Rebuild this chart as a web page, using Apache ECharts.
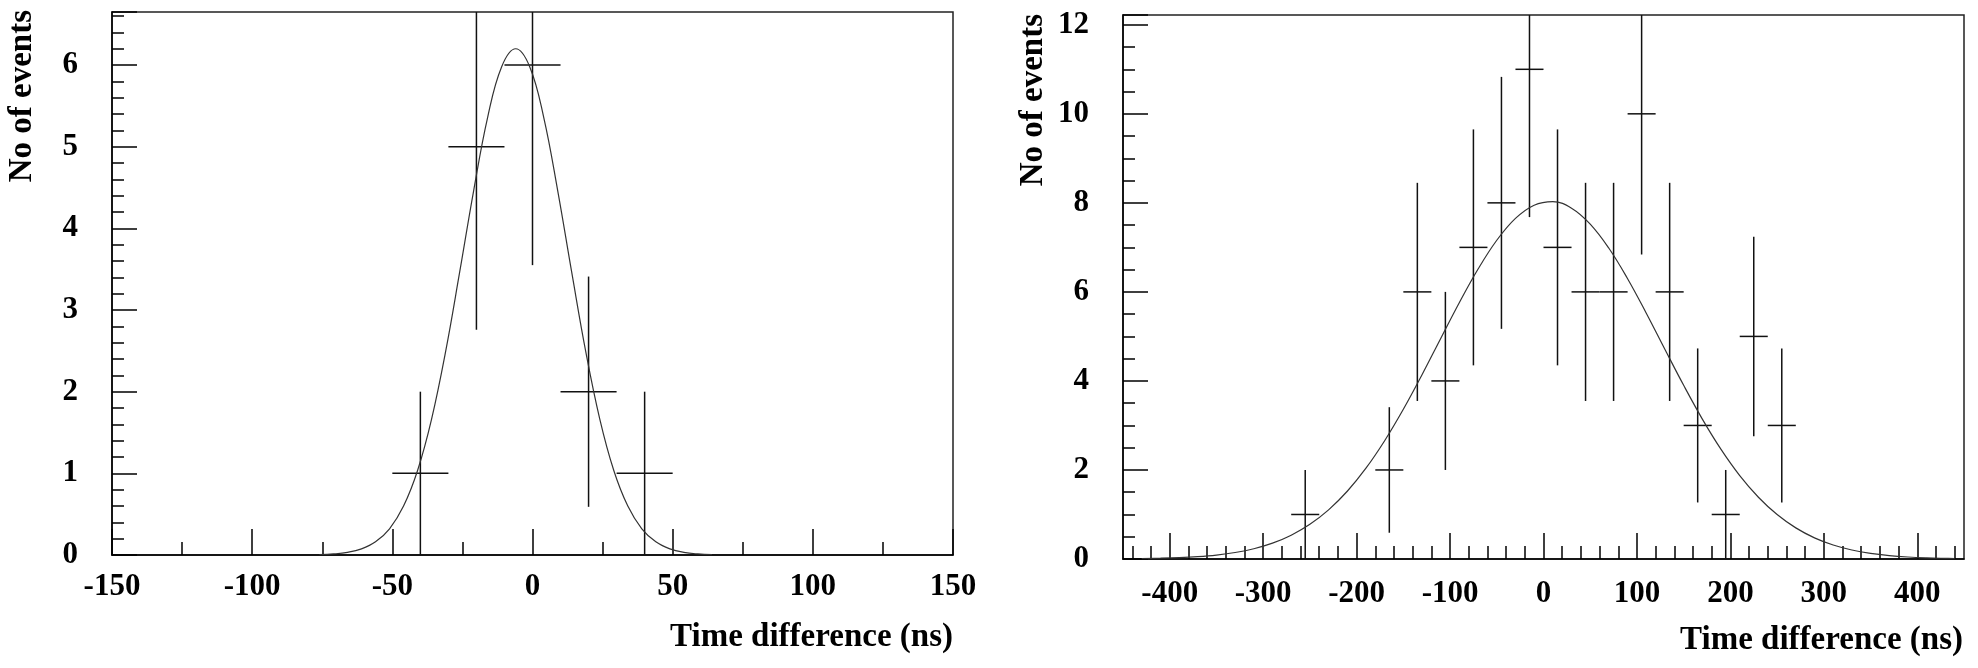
<!DOCTYPE html>
<html>
<head>
<meta charset="utf-8">
<script src="https://cdn.jsdelivr.net/npm/echarts@6/dist/echarts.min.js"></script>
<style>
html,body{margin:0;padding:0;background:#fff;}
#chart{width:1978px;height:668px;}
</style>
</head>
<body>
<div id="chart"></div>
<script>
// ---------- Left panel data (bin width 20 ns) ----------
const leftBinWidth = 20;
const leftCenters = [-40, -20, 0, 20, 40];
const leftCounts  = [1, 5, 6, 2, 1];
const leftErrors  = [1, 2.24, 2.45, 1.41, 1];
const leftFitX = [-76, -71, -66, -61, -56, -51, -46, -41, -36, -31, -26, -21, -16, -11, -6, -1, 4, 9, 14, 19, 24, 29, 34, 39, 44, 49, 54, 59, 64];
const leftFitY = [0.005, 0.013, 0.032, 0.075, 0.161, 0.321, 0.599, 1.035, 1.665, 2.49, 3.46, 4.46, 5.36, 5.98, 6.2, 5.98, 5.36, 4.46, 3.46, 2.49, 1.665, 1.035, 0.599, 0.321, 0.161, 0.075, 0.032, 0.013, 0.005];

// ---------- Right panel data (bin width 30 ns) ----------
const rightBinWidth = 30;
const rightCenters = [-255, -165, -135, -105, -75, -45, -15, 15, 45, 75, 105, 135, 165, 195, 225, 255];
const rightCounts  = [1, 2, 6, 4, 7, 8, 11, 7, 6, 6, 10, 6, 3, 1, 5, 3];
const rightErrors  = [1, 1.41, 2.45, 2, 2.65, 2.83, 3.32, 2.65, 2.45, 2.45, 3.16, 2.45, 1.73, 1, 2.24, 1.73];
const rightFitX = [-430, -410, -390, -370, -350, -330, -310, -290, -270, -250, -230, -210, -190, -170, -150, -130, -110, -90, -70, -50, -30, -10, 10, 30, 50, 70, 90, 110, 130, 150, 170, 190, 210, 230, 250, 270, 290, 310, 330, 350, 370, 390, 410, 430, 440];
const rightFitY = [0.0095, 0.0173, 0.0307, 0.0531, 0.0892, 0.146, 0.231, 0.356, 0.535, 0.780, 1.104, 1.522, 2.040, 2.657, 3.363, 4.139, 4.953, 5.761, 6.513, 7.160, 7.651, 7.948, 8.028, 7.881, 7.523, 6.980, 6.296, 5.521, 4.706, 3.901, 3.143, 2.462, 1.874, 1.388, 0.998, 0.699, 0.475, 0.314, 0.202, 0.126, 0.0766, 0.0452, 0.0260, 0.0145, 0.0107];
const rightMajorTicks = [-400, -300, -200, -100, 0, 100, 200, 300, 400];
const rightMinorTicks = [-440, -420, -380, -360, -340, -320, -280, -260, -240, -220, -180, -160, -140, -120, -80, -60, -40, -20, 20, 40, 60, 80, 120, 140, 160, 180, 220, 240, 260, 280, 320, 340, 360, 380, 420, 440];

// ---------- Text ----------
const xTitle = 'Time difference (ns)';
const yTitle = 'No of events';

const serif = '"Liberation Serif", "Times New Roman", Times, serif';
const labelStyle = { fontFamily: serif, fontWeight: 'bold', fontSize: 31, color: '#000' };
const tickLine = { color: '#000', width: 1.5 };
const titleStyle = { fontFamily: serif, fontWeight: 'bold', fontSize: 33, fill: '#000', align: 'right', verticalAlign: 'middle', textAlign: 'right', textVerticalAlign: 'middle' };

function crossRenderer(binWidth) {
  return function (params, api) {
    const x = api.value(0), y = api.value(1), e = api.value(2);
    const cs = params.coordSys;
    const top = cs.y, bot = cs.y + cs.height;
    const clampY = v => Math.max(top, Math.min(bot, v));
    const c = api.coord([x, y]);
    const l = api.coord([x - binWidth / 2, y]);
    const r = api.coord([x + binWidth / 2, y]);
    const hi = api.coord([x, y + e]);
    const lo = api.coord([x, y - e]);
    const st = { stroke: '#111', lineWidth: 1.5 };
    return {
      type: 'group',
      children: [
        { type: 'line', shape: { x1: l[0], y1: c[1], x2: r[0], y2: c[1] }, style: st },
        { type: 'line', shape: { x1: c[0], y1: clampY(hi[1]), x2: c[0], y2: clampY(lo[1]) }, style: st }
      ]
    };
  };
}

const chart = echarts.init(document.getElementById('chart'), null, { renderer: 'canvas' });
const option = {
  animation: false,
  backgroundColor: '#fff',
  grid: [
    { left: 112, top: 12, width: 841, height: 543, show: true, borderColor: '#222', borderWidth: 1.5, backgroundColor: 'transparent', outerBoundsMode: 'none' },
    { left: 1123, top: 15, width: 841, height: 544, show: true, borderColor: '#222', borderWidth: 1.5, backgroundColor: 'transparent', outerBoundsMode: 'none' }
  ],
  xAxis: [
    {
      gridIndex: 0, type: 'value', min: -150, max: 150, interval: 50, position: 'bottom',
      axisLine: { show: true, onZero: false, lineStyle: tickLine },
      axisTick: { show: true, inside: true, length: 26, lineStyle: tickLine },
      minorTick: { show: true, splitNumber: 2, length: 13, lineStyle: tickLine },
      axisLabel: Object.assign({ margin: 16 }, labelStyle),
      splitLine: { show: false }, minorSplitLine: { show: false }
    },
    {
      gridIndex: 1, type: 'value', min: -450, max: 450, position: 'bottom',
      axisLine: { show: true, onZero: false, lineStyle: tickLine },
      axisTick: { show: true, inside: true, length: 26, lineStyle: tickLine, customValues: rightMajorTicks },
      minorTick: { show: false },
      axisLabel: Object.assign({ margin: 19, customValues: rightMajorTicks }, labelStyle),
      splitLine: { show: false }, minorSplitLine: { show: false }
    },
    {
      gridIndex: 1, type: 'value', min: -450, max: 450, position: 'bottom',
      axisLine: { show: false, onZero: false },
      axisTick: { show: true, inside: true, length: 13, lineStyle: tickLine, customValues: rightMinorTicks },
      minorTick: { show: false },
      axisLabel: { show: false },
      splitLine: { show: false }, minorSplitLine: { show: false }
    }
  ],
  yAxis: [
    {
      gridIndex: 0, type: 'value', min: 0, max: 6.65, interval: 1,
      axisLine: { show: true, onZero: false, lineStyle: tickLine },
      axisTick: { show: true, inside: true, length: 25, lineStyle: tickLine },
      minorTick: { show: true, splitNumber: 5, length: 12, lineStyle: tickLine },
      axisLabel: Object.assign({ margin: 34, showMaxLabel: false }, labelStyle),
      splitLine: { show: false }, minorSplitLine: { show: false }
    },
    {
      gridIndex: 1, type: 'value', min: 0, max: 12.22, interval: 2,
      axisLine: { show: true, onZero: false, lineStyle: tickLine },
      axisTick: { show: true, inside: true, length: 25, lineStyle: tickLine },
      minorTick: { show: true, splitNumber: 4, length: 12, lineStyle: tickLine },
      axisLabel: Object.assign({ margin: 34, showMaxLabel: false }, labelStyle),
      splitLine: { show: false }, minorSplitLine: { show: false }
    }
  ],
  series: [
    {
      type: 'custom', xAxisIndex: 0, yAxisIndex: 0, silent: true,
      encode: { x: 0, y: 1 },
      renderItem: crossRenderer(leftBinWidth),
      data: leftCenters.map((x, i) => [x, leftCounts[i], leftErrors[i]])
    },
    {
      type: 'line', xAxisIndex: 0, yAxisIndex: 0, silent: true,
      showSymbol: false, symbol: 'none', smooth: 0.4,
      lineStyle: { color: '#333', width: 1.2 },
      data: leftFitX.map((x, i) => [x, leftFitY[i]])
    },
    {
      type: 'custom', xAxisIndex: 1, yAxisIndex: 1, silent: true,
      encode: { x: 0, y: 1 },
      renderItem: crossRenderer(rightBinWidth),
      data: rightCenters.map((x, i) => [x, rightCounts[i], rightErrors[i]])
    },
    {
      type: 'line', xAxisIndex: 1, yAxisIndex: 1, silent: true,
      showSymbol: false, symbol: 'none', smooth: 0.4,
      lineStyle: { color: '#333', width: 1.2 },
      data: rightFitX.map((x, i) => [x, rightFitY[i]])
    }
  ],
  graphic: [
    { type: 'text', x: 22.5, y: 10, rotation: Math.PI / 2, silent: true,
      style: Object.assign({ text: yTitle }, titleStyle) },
    { type: 'text', x: 1033.5, y: 14, rotation: Math.PI / 2, silent: true,
      style: Object.assign({ text: yTitle }, titleStyle) },
    { type: 'text', x: 953, y: 637, silent: true,
      style: Object.assign({ text: xTitle }, titleStyle) },
    { type: 'text', x: 1963, y: 640, silent: true,
      style: Object.assign({ text: xTitle }, titleStyle) }
  ]
};
chart.setOption(option);
</script>
</body>
</html>
